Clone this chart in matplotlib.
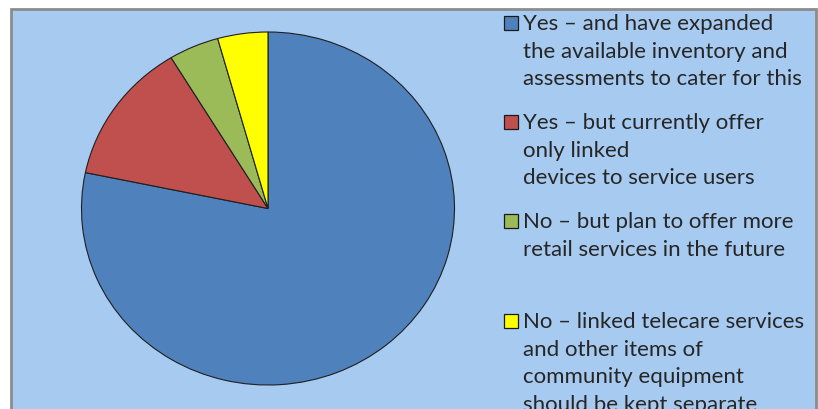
import matplotlib
matplotlib.use("Agg")
import matplotlib.pyplot as plt
from matplotlib.patches import Rectangle

labels = [
    "Yes \u2013 and have expanded\nthe available inventory and\nassessments to cater for this",
    "Yes \u2013 but currently offer\nonly linked\ndevices to service users",
    "No \u2013 but plan to offer more\nretail services in the future",
    "No \u2013 linked telecare services\nand other items of\ncommunity equipment\nshould be kept separate",
]
values = [18, 3, 1, 1]
colors = ["#4F81BD", "#C0504D", "#9BBB59", "#FFFF00"]

W, H = 818, 410
fig = plt.figure(figsize=(W / 100, H / 100), dpi=100)
fig.patch.set_facecolor("white")

def fx(px):
    return px / W

def fy(py):
    return (H - py) / H

# chart area frame
fig.patches.append(Rectangle((fx(11), fy(430)), fx(816) - fx(11), fy(10) - fy(430),
                             transform=fig.transFigure, facecolor="#A7CAF0",
                             edgecolor="#8C8C8C", linewidth=2.0, zorder=-5))

# pie axes (slightly elliptical like the original)
cx, cy, rx, ry = 268, 209.5, 186.5, 176.5
ax = fig.add_axes([fx(cx - rx), fy(cy + ry), (2 * rx) / W, (2 * ry) / H])
ax.set_zorder(2)
ax.pie(values, colors=colors, startangle=90, counterclock=False,
       wedgeprops=dict(edgecolor="#1F1F1F", linewidth=0.8))
ax.set_aspect("auto")
ax.set_xlim(-1.0, 1.0)
ax.set_ylim(-1.0, 1.0)
ax.set_axis_off()
ax.patch.set_visible(False)

# legend drawn manually
font = "Lato"
fs = 16.0
first_line_y = [24, 123, 222, 322]
line_gap = 27.6
for lab, col, y0 in zip(labels, colors, first_line_y):
    fig.patches.append(Rectangle((fx(503.5), fy(y0 + 7)), 14 / W, 14 / H,
                                 transform=fig.transFigure, facecolor=col,
                                 edgecolor="#1A1A1A", linewidth=0.9, zorder=3))
    for i, line in enumerate(lab.split("\n")):
        fig.text(fx(523), fy(y0 + i * line_gap), line, fontsize=fs, family=font,
                 color="#262626", va="center", ha="left")

fig.savefig("out.png", dpi=100)
